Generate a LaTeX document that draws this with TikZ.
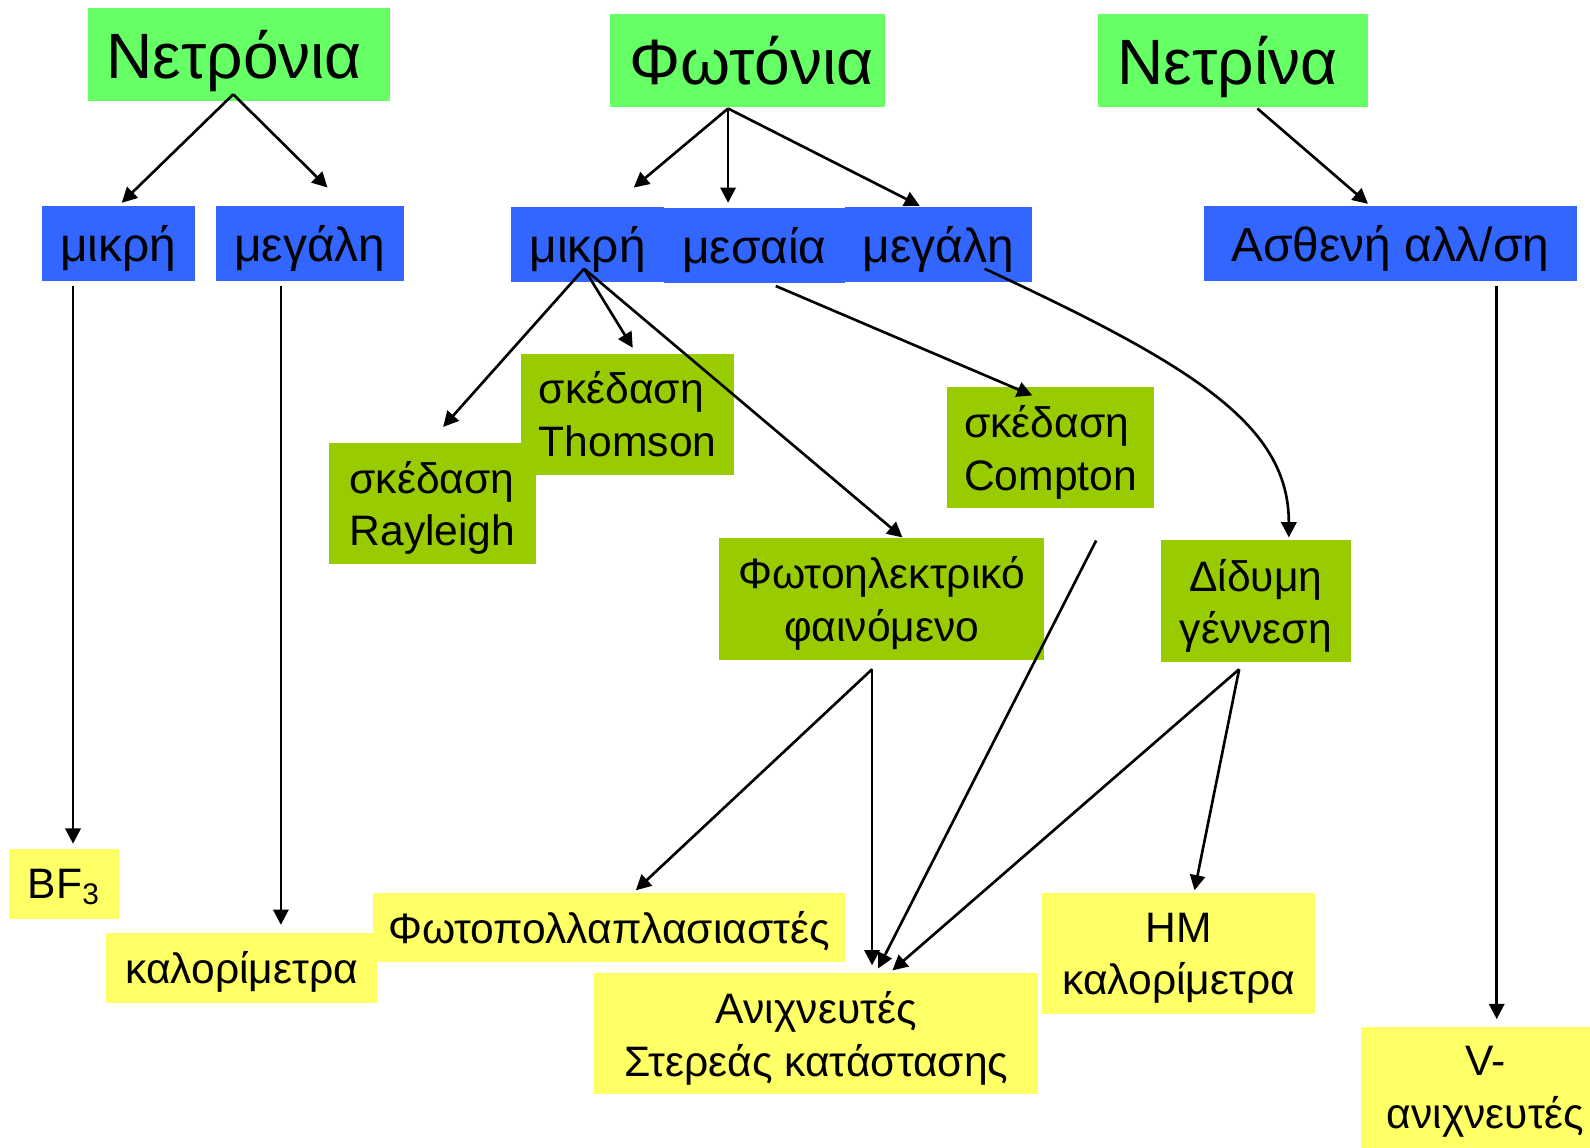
\documentclass[tikz,border=0pt]{standalone}
\usepackage{fontspec}
\setmainfont{Liberation Sans}
\usetikzlibrary{arrows.meta}
\definecolor{hdrgreen}{HTML}{66FF66}
\definecolor{midblue}{HTML}{3366FF}
\definecolor{olivegreen}{HTML}{99CC00}
\definecolor{paleyellow}{HTML}{FFFF66}
\begin{document}
\begin{tikzpicture}[x=0.5pt,y=-0.5pt,
  box/.style={anchor=north west, inner sep=0pt, outer sep=0pt, align=center, text depth=0pt},
  hdr/.style={box, fill=hdrgreen, font=\fontsize{31.6}{36}\selectfont},
  blu/.style={box, fill=midblue, font=\fontsize{23.6}{27}\selectfont},
  grn/.style={box, fill=olivegreen, font=\fontsize{21}{26}\selectfont},
  ylw/.style={box, fill=paleyellow, font=\fontsize{21}{26}\selectfont},
  arr/.style={line width=1.3pt, -{Triangle[length=7.5pt,width=7.5pt]}}]
\useasboundingbox (0,0) rectangle (1568,1132);
% headers
\node[hdr, minimum width=149pt, minimum height=46pt] (neut) at (87,8) {Νετρόνια\hspace{5pt}};
\node[hdr, minimum width=135.5pt, minimum height=46pt] (phot) at (602,14) {\hspace{3.5pt}Φωτόνια};
\node[hdr, minimum width=133pt, minimum height=46pt] (nutr) at (1083,14) {Νετρίνα\hspace{5.5pt}};
% blue
\node[blu, minimum width=75.5pt, minimum height=37pt] (nsmall) at (41,203) {μικρή};
\node[blu, minimum width=92.5pt, minimum height=37pt] (nlarge) at (213,203) {μεγάλη};
\node[blu, minimum width=75.5pt, minimum height=37pt] (psmall) at (504,204) {μικρή};
\node[blu, minimum width=89pt, minimum height=37pt] (pmed) at (655,205) {μεσαία};
\node[blu, minimum width=92.5pt, minimum height=37pt] (plarge) at (833,204) {μεγάλη};
\node[blu, minimum width=184pt, minimum height=37pt] (weak) at (1187,203) {Ασθενή αλλ/ση};
% green
\node[grn, align=left, minimum width=105pt, minimum height=59.5pt] (thomson) at (514,349) {σκέδαση\\Thomson};
\node[grn, align=left, minimum width=102.5pt, minimum height=59.5pt] (rayleigh) at (324,437) {σκέδαση\\Rayleigh};
\node[grn, align=left, minimum width=102pt, minimum height=59.5pt] (compton) at (934,382) {σκέδαση\\Compton};
\node[grn, minimum width=160.5pt, minimum height=60pt] (photoel) at (709,531) {Φωτοηλεκτρικό\\φαινόμενο};
\node[grn, minimum width=93.5pt, minimum height=60pt] (pair) at (1145,533) {Δίδυμη\\γέννεση};
% yellow
\node[ylw, minimum width=54pt, minimum height=34.5pt] (bf) at (9,837) {BF\textsubscript{3}};
\node[ylw, minimum width=133.5pt, minimum height=34.5pt] (calor) at (105,920) {καλορίμετρα};
\node[ylw, minimum width=232.5pt, minimum height=34pt] (pmt) at (368,881) {Φωτοπολλαπλασιαστές};
\node[ylw, minimum width=219pt, minimum height=59.5pt] (solid) at (586,960) {Ανιχνευτές\\Στερεάς κατάστασης};
\node[ylw, minimum width=134.5pt, minimum height=59.5pt] (emcal) at (1028,881) {ΗΜ\\καλορίμετρα};
\node[ylw, minimum width=113pt, minimum height=59.5pt] (vdet) at (1342,1013) {\hspace*{10pt}V-\\\hspace*{10pt}ανιχνευτές};
% connector end points
\coordinate (neut-o) at (230,93);
\coordinate (nsmall-i) at (120,200);
\coordinate (nlarge-i) at (323,185);
\coordinate (phot-o) at (718,107);
\coordinate (psmall-i) at (625,185);
\coordinate (pmed-i) at (718,200);
\coordinate (plarge-i) at (907,203);
\coordinate (nutr-o) at (1240,107);
\coordinate (weak-i) at (1349,201);
\coordinate (nsmall-o) at (72,282);
\coordinate (bf-i) at (72,832);
\coordinate (nlarge-o) at (277,282);
\coordinate (calor-i) at (277,912);
\coordinate (weak-o) at (1476,282);
\coordinate (vdet-i) at (1476,1005);
\coordinate (psmall-o) at (576,265);
\coordinate (rayleigh-i) at (437,421);
\coordinate (thomson-i) at (624,343);
\coordinate (photoel-i) at (890,530);
\coordinate (pmed-o) at (765,282);
\coordinate (compton-i) at (1018,390);
\coordinate (plarge-o) at (971,265);
\coordinate (pair-i) at (1271,530);
\coordinate (photoel-o) at (860,660);
\coordinate (pmt-i) at (627,878);
\coordinate (solid-i1) at (860,952);
\coordinate (compton-o) at (1081,533);
\coordinate (solid-i2) at (866,955);
\coordinate (pair-o) at (1222,660);
\coordinate (solid-i3) at (880,957);
\coordinate (emcal-i) at (1178,878);
% connectors
\draw[arr] (neut-o) -- (nsmall-i);
\draw[arr] (neut-o) -- (nlarge-i);
\draw[arr] (phot-o) -- (psmall-i);
\draw[arr] (phot-o) -- (pmed-i);
\draw[arr] (phot-o) -- (plarge-i);
\draw[arr] (nutr-o) -- (weak-i);
\draw[arr] (nsmall-o) -- (bf-i);
\draw[arr] (nlarge-o) -- (calor-i);
\draw[arr] (weak-o) -- (vdet-i);
\draw[arr] (psmall-o) -- (rayleigh-i);
\draw[arr] (psmall-o) -- (thomson-i);
\draw[arr] (psmall-o) -- (photoel-i);
\draw[arr] (pmed-o) -- (compton-i);
\draw[arr] (plarge-o) .. controls (1180,362) and (1271,420) .. (pair-i);
\draw[arr] (photoel-o) -- (pmt-i);
\draw[arr] (photoel-o) -- (solid-i1);
\draw[arr] (compton-o) -- (solid-i2);
\draw[arr] (pair-o) -- (solid-i3);
\draw[arr] (pair-o) -- (emcal-i);
\end{tikzpicture}
\end{document}
